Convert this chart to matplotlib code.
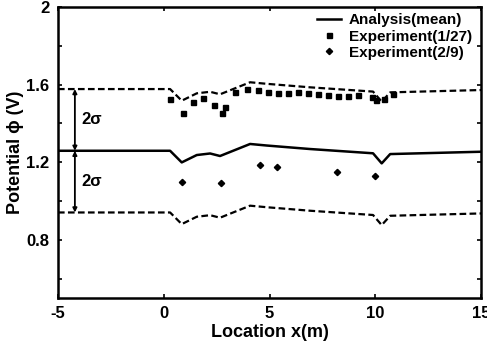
import matplotlib
matplotlib.use("Agg")
import matplotlib.pyplot as plt
from matplotlib.lines import Line2D

plt.rcParams.update({
    "font.family": ["Liberation Sans", "DejaVu Sans"],
    "font.weight": "bold",
    "axes.labelweight": "bold",
    "axes.unicode_minus": False,
})

# analysis mean and the +/- 2 sigma bands
loc_x = [-5, 0.3, 0.85, 1.56, 2.19, 2.66, 4.08, 4.87, 6.91, 9.89, 10.3, 10.7, 15]
mean_phi = [1.259, 1.259, 1.199, 1.237, 1.245, 1.232, 1.294, 1.286, 1.268, 1.246, 1.194, 1.242, 1.254]
upper_phi = [1.577, 1.577, 1.517, 1.555, 1.563, 1.550, 1.612, 1.604, 1.586, 1.564, 1.512, 1.560, 1.572]
lower_phi = [0.941, 0.941, 0.881, 0.919, 0.927, 0.914, 0.976, 0.968, 0.950, 0.928, 0.876, 0.924, 0.936]

# Experiment(1/27)
exp1_x = [0.30, 0.90, 1.40, 1.87, 2.39, 2.74, 2.90, 3.37, 3.92, 4.47, 4.94, 5.42, 5.89,
          6.35, 6.82, 7.29, 7.77, 8.24, 8.71, 9.18, 9.85, 10.04, 10.41, 10.84]
exp1_phi = [1.524, 1.452, 1.512, 1.529, 1.495, 1.452, 1.483, 1.563, 1.576, 1.572, 1.563, 1.558, 1.555,
            1.560, 1.557, 1.552, 1.546, 1.541, 1.541, 1.546, 1.536, 1.521, 1.526, 1.552]

# Experiment(2/9)
exp2_x = [0.88, 2.71, 4.55, 5.37, 8.18, 9.96]
exp2_phi = [1.096, 1.091, 1.184, 1.174, 1.151, 1.129]

arrow_x = -4.2

fig = plt.figure(figsize=(4.87, 3.49), dpi=100)
ax = fig.add_axes([0.119, 0.146, 0.869, 0.834])

ax.plot(loc_x, mean_phi, "k-", lw=1.8)
ax.plot(loc_x, upper_phi, color="k", lw=1.6, linestyle=(0, (3, 1.5)))
ax.plot(loc_x, lower_phi, color="k", lw=1.6, linestyle=(0, (3, 1.5)))
ax.plot(exp1_x, exp1_phi, "ks", ms=3.6, ls="none")
ax.plot(exp2_x, exp2_phi, "kD", ms=3.2, ls="none")

# 2 sigma arrows
arr = dict(arrowstyle="<|-|>", color="k", lw=1.3, mutation_scale=6, shrinkA=0, shrinkB=0)
ax.annotate("", xy=(arrow_x, upper_phi[0]), xytext=(arrow_x, mean_phi[0]), arrowprops=arr)
ax.annotate("", xy=(arrow_x, mean_phi[0]), xytext=(arrow_x, lower_phi[0]), arrowprops=arr)
ax.text(arrow_x + 0.3, (upper_phi[0] + mean_phi[0]) / 2, "2σ", fontsize=12, va="center", ha="left")
ax.text(arrow_x + 0.3, (mean_phi[0] + lower_phi[0]) / 2, "2σ", fontsize=12, va="center", ha="left")

ax.set_xlim(-5, 15)
ax.set_ylim(0.5, 2.0)
ax.set_xticks([-5, 0, 5, 10, 15])
ax.set_yticks([0.8, 1.2, 1.6, 2.0])
ax.set_yticklabels(["0.8", "1.2", "1.6", "2"])
ax.set_yticks([0.6, 1.0, 1.4, 1.8], minor=True)
ax.tick_params(which="both", direction="in", top=True, right=True, length=3, width=1.2,
               labelsize=12, pad=6)
for s in ax.spines.values():
    s.set_linewidth(1.8)

ax.set_xlabel("Location x(m)", fontsize=13, labelpad=2)
ax.set_ylabel("Potential \u03d5 (V)", fontsize=13, labelpad=2)

handles = [
    Line2D([], [], color="k", lw=1.8),
    Line2D([], [], color="k", marker="s", ms=3.6, ls="none"),
    Line2D([], [], color="k", marker="D", ms=3.2, ls="none"),
]
ax.legend(handles, ["Analysis(mean)", "Experiment(1/27)", "Experiment(2/9)"],
          loc="upper right", bbox_to_anchor=(1.0, 1.01), frameon=False,
          handlelength=1.6, handletextpad=0.5, labelspacing=0.15, borderaxespad=0.2,
          prop={"weight": "bold", "size": 11})

fig.savefig("out.png", dpi=100)
